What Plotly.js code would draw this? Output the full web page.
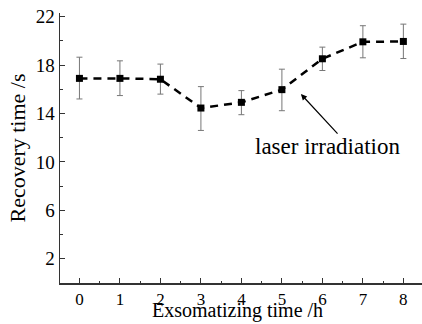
<!DOCTYPE html>
<html><head><meta charset="utf-8">
<script src="https://cdn.plot.ly/plotly-3.0.1.min.js"></script>
<style>html,body{margin:0;padding:0;background:#fff}#c{width:422px;height:324px}</style>
</head><body><div id="c"></div>
<script>
const hours = [0, 1, 2, 3, 4, 5, 6, 7, 8];
const recovery = [16.9, 16.9, 16.83, 14.45, 14.92, 15.97, 18.52, 19.92, 19.95];
const errPlus = [1.75, 1.45, 1.25, 1.77, 0.97, 1.69, 0.96, 1.33, 1.43];
const errMinus = [1.7, 1.42, 1.23, 1.85, 1.02, 1.74, 0.97, 1.32, 1.41];
const tickVals = [2, 6, 10, 14, 18, 22];
const annoText = 'laser irradiation';
const xTitle = 'Exsomatizing time /h';
const yTitle = 'Recovery time /s';

const font = 'Liberation Serif';
Plotly.newPlot('c', [{
  x: hours, y: recovery, type: 'scatter', mode: 'lines+markers',
  line: {color: '#000', width: 2.5, dash: '8px,6px'},
  marker: {symbol: 'square', size: 7, color: '#000'},
  error_y: {type: 'data', symmetric: false, array: errPlus, arrayminus: errMinus,
            color: '#777', thickness: 1, width: 3}
}], {
  width: 422, height: 324,
  margin: {l: 60, r: 0, t: 13, b: 41},
  paper_bgcolor: '#fff', plot_bgcolor: '#fff',
  showlegend: false,
  font: {family: font, color: '#000', size: 18},
  xaxis: {
    range: [-0.48, 8.46], tickvals: hours, ticks: 'inside', ticklen: 5, tickcolor: '#333',
    showline: true, linecolor: '#333', linewidth: 1.5, showgrid: false, zeroline: false,
    tickfont: {family: font, size: 17},
    minor: {dtick: 0.5, tick0: 0.5, ticks: 'inside', ticklen: 2, tickcolor: '#333', showgrid: false}
  },
  yaxis: {
    range: [0, 22.3], tickvals: tickVals, ticks: 'inside', ticklen: 5, tickcolor: '#333',
    showline: true, linecolor: '#333', linewidth: 1.5, showgrid: false, zeroline: false,
    tickfont: {family: font, size: 19},
    minor: {dtick: 2, tick0: 0, ticks: 'inside', ticklen: 3, tickcolor: '#333', showgrid: false},
    title: {text: yTitle, font: {family: font, size: 22}, standoff: 4}
  },
  annotations: [
    {x: 0.49, y: -0.152, xref: 'paper', yref: 'paper', text: xTitle, showarrow: false,
     xanchor: 'center', yanchor: 'bottom', font: {family: font, size: 20, color: '#000'}},
    {x: 6.12, y: 11.25, xref: 'x', yref: 'y', text: annoText, showarrow: false,
     xanchor: 'center', yanchor: 'middle', font: {family: font, size: 23, color: '#000'}},
    {x: 5.47, y: 15.6, xref: 'x', yref: 'y', text: '', showarrow: true,
     arrowhead: 2, arrowsize: 1, arrowwidth: 1.2, arrowcolor: '#000', ax: 38, ay: 41}
  ]
}, {displayModeBar: false, staticPlot: true});
</script></body></html>
